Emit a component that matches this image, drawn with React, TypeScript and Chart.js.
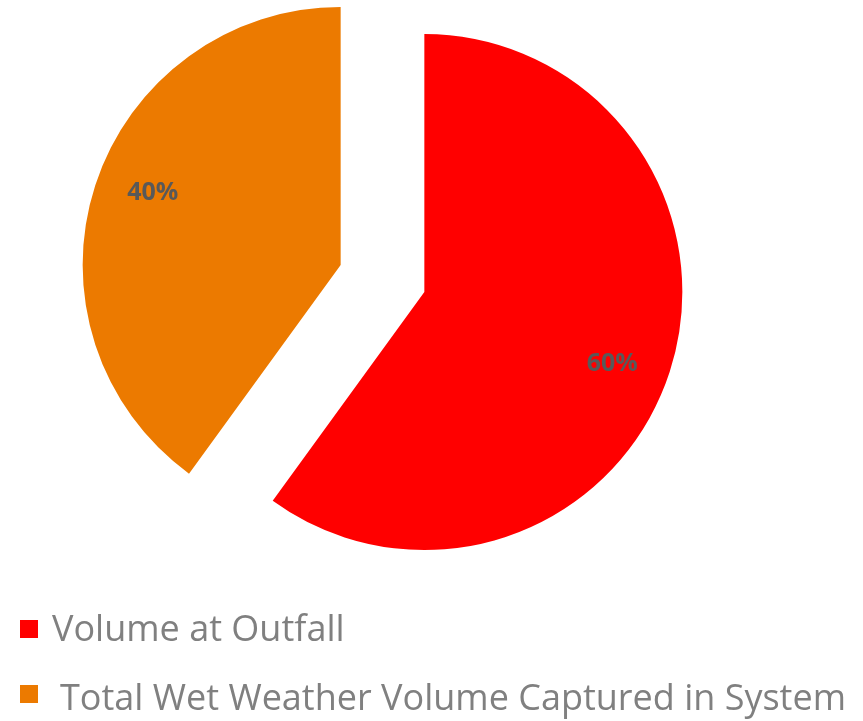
import React, { useEffect, useRef } from "react";
import { Chart, registerables } from "chart.js";

Chart.register(...registerables);

const categories = ["Volume at Outfall", "Total Wet Weather Volume Captured in System"];
const shares = [60, 40];
const sliceColors = ["#FF0000", "#EC7A00"];
// How far each slice is pulled out from the pie centre, in pixels
const explodeDistances = [44, 44];

const W = 863;
const H = 721;
const PIE_RADIUS = 258;
const LABEL_RADIUS = 0.78;
const LABEL_TURN = (3 * Math.PI) / 180;

// Pulls each arc outward along its mid-angle before the library draws it
const explodeSlices = {
  id: "explodeSlices",
  beforeDatasetsDraw(chart: Chart) {
    const meta = chart.getDatasetMeta(0);
    meta.data.forEach((el: any, i: number) => {
      el.$explode = explodeDistances[i] || 0;
      if (el.$wrapped) return;
      const baseDraw = el.draw.bind(el);
      el.draw = (ctx: CanvasRenderingContext2D, area: any) => {
        const mid = (el.startAngle + el.endAngle) / 2;
        ctx.save();
        ctx.translate(Math.cos(mid) * el.$explode, Math.sin(mid) * el.$explode);
        baseDraw(ctx, area);
        ctx.restore();
      };
      el.$wrapped = true;
    });
  },
};

// Percentage labels inside each exploded slice
const percentLabels = {
  id: "percentLabels",
  afterDatasetsDraw(chart: Chart) {
    const ctx = chart.ctx;
    const meta = chart.getDatasetMeta(0);
    const total = shares.reduce((a, b) => a + b, 0);
    ctx.save();
    ctx.font = "bold 25px 'Open Sans'";
    ctx.fillStyle = "#595959";
    ctx.textAlign = "center";
    ctx.textBaseline = "middle";
    meta.data.forEach((el: any, i: number) => {
      const { x, y, startAngle, endAngle, outerRadius } = el.getProps(
        ["x", "y", "startAngle", "endAngle", "outerRadius"],
        true
      );
      const mid = (startAngle + endAngle) / 2;
      const e = explodeDistances[i] || 0;
      const cx = x + Math.cos(mid) * e;
      const cy = y + Math.sin(mid) * e;
      const a = mid + LABEL_TURN;
      const d = outerRadius * LABEL_RADIUS;
      const pct = Math.round((shares[i] / total) * 100) + "%";
      ctx.fillText(pct, cx + Math.cos(a) * d, cy + Math.sin(a) * d);
    });
    ctx.restore();
  },
};

export default function App() {
  const canvasRef = useRef<HTMLCanvasElement>(null);

  useEffect(() => {
    if (!canvasRef.current) return;
    const chart = new Chart(canvasRef.current, {
      type: "pie",
      data: {
        labels: categories,
        datasets: [
          {
            data: shares,
            backgroundColor: sliceColors,
            borderWidth: 0,
          },
        ],
      },
      options: {
        responsive: false,
        animation: false,
        radius: PIE_RADIUS,
        layout: { padding: { left: 0, right: 98, top: 0, bottom: 164 } },
        plugins: {
          legend: { display: false },
          tooltip: { enabled: false },
        },
      },
      plugins: [explodeSlices, percentLabels],
    });
    return () => chart.destroy();
  }, []);

  return (
    <div style={{ position: "fixed", left: 0, top: 0, width: W, height: H, background: "#fff" }}>
      <canvas ref={canvasRef} width={W} height={H} style={{ position: "absolute", left: 0, top: 0 }} />
      {categories.map((c, i) => (
        <React.Fragment key={c}>
          <span
            style={{
              position: "absolute",
              left: 20,
              top: 620 + i * 65,
              width: 18,
              height: 18,
              background: sliceColors[i],
            }}
          />
          <span
            style={{
              position: "absolute",
              left: 52 + i * 8,
              top: 610 + i * 69,
              fontFamily: "'Open Sans', sans-serif",
              fontSize: 36,
              lineHeight: "36px",
              color: "#808080",
              whiteSpace: "nowrap",
            }}
          >
            {c}
          </span>
        </React.Fragment>
      ))}
    </div>
  );
}
